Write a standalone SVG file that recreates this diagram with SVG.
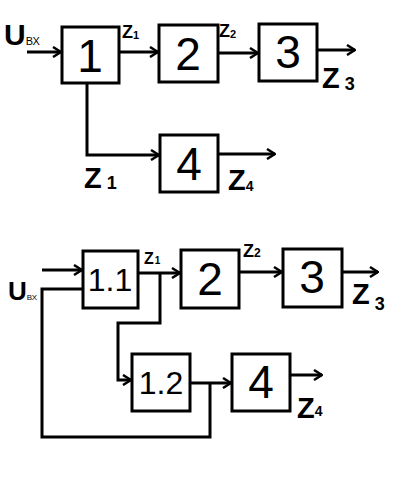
<svg xmlns="http://www.w3.org/2000/svg" width="404" height="481" viewBox="0 0 404 481">
<style>
.box{fill:#fff;stroke:#000;stroke-width:3}
.ln{fill:none;stroke:#000;stroke-width:3;stroke-linejoin:miter}
.num{font-family:"Liberation Sans",Arial,sans-serif;font-size:46px;text-anchor:middle;fill:#000}
.num.sm{font-size:32px}
.lab{font-family:"Liberation Sans",Arial,sans-serif;font-weight:bold;fill:#000}
</style>
<defs>
<marker id="ah" viewBox="0 0 10 12" refX="9" refY="6" markerWidth="10" markerHeight="12" markerUnits="userSpaceOnUse" orient="auto">
<path d="M1,1 L9,6 L1,11" fill="none" stroke="#000" stroke-width="2.5"/>
</marker>
</defs>
<rect width="404" height="481" fill="#fff"/>
<g id="connectors">
<path class="ln" d="M27,52 H61" marker-end="url(#ah)"/>
<path class="ln" d="M119,52 H158" marker-end="url(#ah)"/>
<path class="ln" d="M218,53 H258" marker-end="url(#ah)"/>
<path class="ln" d="M317,50 H355" marker-end="url(#ah)"/>
<path class="ln" d="M87,83 V155 H159" marker-end="url(#ah)"/>
<path class="ln" d="M218,154 H275" marker-end="url(#ah)"/>
<path class="ln" d="M42,270 H82" marker-end="url(#ah)"/>
<path class="ln" d="M83,289 H42 V437 H210 V383"/>
<path class="ln" d="M138,273 H180" marker-end="url(#ah)"/>
<path class="ln" d="M160,273 V323 H118 V380 H131" marker-end="url(#ah)"/>
<path class="ln" d="M190,383 H231" marker-end="url(#ah)"/>
<path class="ln" d="M239,272 H282" marker-end="url(#ah)"/>
<path class="ln" d="M342,272 H378" marker-end="url(#ah)"/>
<path class="ln" d="M290,375 H322" marker-end="url(#ah)"/>
</g>
<g id="n1"><rect class="box" x="62" y="27" width="57" height="56"/><text class="num" x="90" y="72">1</text></g>
<g id="n2"><rect class="box" x="159" y="25" width="59" height="57"/><text class="num" x="188" y="70">2</text></g>
<g id="n3"><rect class="box" x="259" y="24" width="58" height="57"/><text class="num" x="288" y="68">3</text></g>
<g id="n4"><rect class="box" x="160" y="135" width="58" height="57"/><text class="num" x="189" y="180">4</text></g>
<g id="n11"><rect class="box" x="83" y="251" width="55" height="57"/><text class="num sm" x="110" y="291">1.1</text></g>
<g id="n2b"><rect class="box" x="181" y="250" width="58" height="58"/><text class="num" x="210" y="295">2</text></g>
<g id="n3b"><rect class="box" x="283" y="249" width="59" height="58"/><text class="num" x="312" y="293">3</text></g>
<g id="n12"><rect class="box" x="132" y="354" width="58" height="57"/><text class="num sm" x="161" y="394">1.2</text></g>
<g id="n4b"><rect class="box" x="232" y="354" width="58" height="57"/><text class="num" x="261" y="398">4</text></g>
<g id="labels">
<text class="lab" x="4" y="45" font-size="30">U<tspan font-size="11" font-weight="normal">ВХ</tspan></text>
<text class="lab" x="122" y="38" font-size="18">Z<tspan font-size="11" dy="1">1</tspan></text>
<text class="lab" x="219" y="37" font-size="18">Z<tspan font-size="11" dy="1">2</tspan></text>
<text class="lab" x="322" y="88" font-size="29">Z<tspan font-size="18" dy="2"> 3</tspan></text>
<text class="lab" x="84" y="188" font-size="29">Z<tspan font-size="18" dy="1"> 1</tspan></text>
<text class="lab" x="228" y="190" font-size="29">Z<tspan font-size="14" dy="1">4</tspan></text>
<text class="lab" x="8" y="300" font-size="26">U<tspan font-size="8" font-weight="normal">ВХ</tspan></text>
<text class="lab" x="144" y="264" font-size="16">Z<tspan font-size="10" dx="1">1</tspan></text>
<text class="lab" x="243" y="257" font-size="18">Z<tspan font-size="12">2</tspan></text>
<text class="lab" x="352" y="304" font-size="29">Z<tspan font-size="18" dy="6"> 3</tspan></text>
<text class="lab" x="297" y="418" font-size="29">Z<tspan font-size="14" dy="-2">4</tspan></text>
</g>
</svg>
